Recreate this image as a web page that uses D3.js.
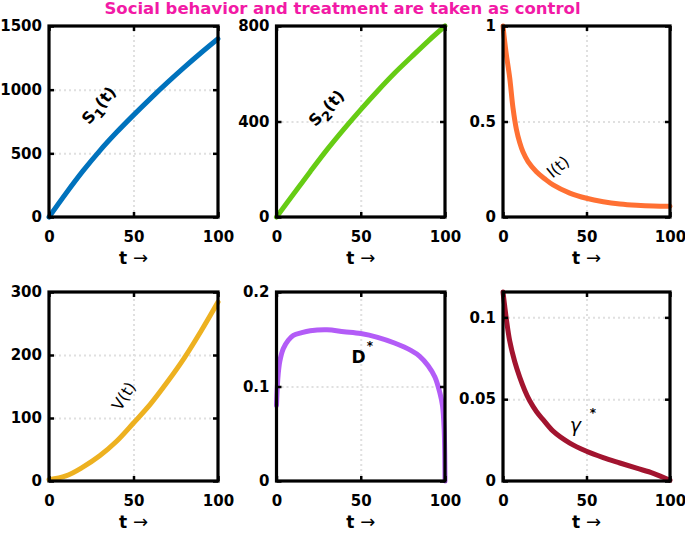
<!DOCTYPE html>
<html><head><meta charset="utf-8">
<script src="https://cdn.jsdelivr.net/npm/d3@7"></script>
<style>
html,body{margin:0;padding:0;background:#fff;}
svg text{font-family:"DejaVu Sans",sans-serif;}
</style></head>
<body><svg id="c" width="685" height="533"></svg>
<script>
// ---- data ----
const title = "Social behavior and treatment are taken as control";
const xTicks = [0, 50, 100];
const xLabelT = "t ";
const xLabelArrow = "\u2192";

const tS1 = [0,10,20,30,40,50,60,70,80,90,100];
const S1  = [0,185,360,520,665,800,930,1055,1175,1290,1400];
const S1Ticks = [0,500,1000,1500];

const tS2 = [0,10,20,30,40,50,60,70,80,90,100];
const S2  = [0,95,190,282,368,450,528,602,670,737,800];
const S2Ticks = [0,400,800];

const tI = [0,1,2,4,6,8,10,12,15,20,25,30,40,50,60,70,80,90,100];
const I  = [1,0.92,0.85,0.73,0.57,0.46,0.39,0.34,0.29,0.237,0.2,0.168,0.125,0.098,0.08,0.068,0.061,0.057,0.056];
const ITicks = [0,0.5,1];

const tV = [0,10,20,30,40,50,60,70,80,90,100];
const V  = [2,8,22,40,63,92,122,157,195,238,284];
const VTicks = [0,100,200,300];

const tD = [0,0.5,1,2,4,7,10,15,20,30,40,50,60,70,80,85,90,94,97,98.5,99.5,100];
const D  = [0.08,0.1,0.113,0.127,0.14,0.149,0.154,0.157,0.159,0.16,0.158,0.156,0.152,0.146,0.138,0.132,0.122,0.11,0.093,0.08,0.055,0];
const DTicks = [0,0.1,0.2];

const tG = [0,1,2,4,7,10,13,16,20,24,30,40,50,60,70,80,90,100];
const G  = [0.1155,0.107,0.099,0.0857,0.073,0.0635,0.0555,0.049,0.0425,0.0375,0.0305,0.0232,0.0182,0.0143,0.011,0.0078,0.0047,0.0005];
const GTicks = [0,0.05,0.1];

// ---- layout ----
const svg = d3.select("#c");
const cols = [[49,218],[276.5,445],[503,670]];
const rows = [[26,217],[292,481]];

const panels = [
  {c:0,r:0,t:tS1,v:S1,yd:[0,1500],yt:S1Ticks,color:"#0072BD"},
  {c:1,r:0,t:tS2,v:S2,yd:[0,800],yt:S2Ticks,color:"#66CC14"},
  {c:2,r:0,t:tI,v:I,yd:[0,1],yt:ITicks,color:"#FF7033"},
  {c:0,r:1,t:tV,v:V,yd:[0,300],yt:VTicks,color:"#EDB120"},
  {c:1,r:1,t:tD,v:D,yd:[0,0.2],yt:DTicks,color:"#B35CF7"},
  {c:2,r:1,t:tG,v:G,yd:[0,0.1155],yt:GTicks,color:"#A2142F"}
];

svg.append("text").attr("x",342.5).attr("y",14).attr("text-anchor","middle")
  .attr("font-size",16.5).attr("font-weight","bold").attr("fill","#F21AA6").text(title);

const fmt = d => String(+d);

panels.forEach(p=>{
  const [x0,x1]=cols[p.c], [y0,y1]=rows[p.r];
  const x = d3.scaleLinear().domain([0,100]).range([x0,x1]);
  const y = d3.scaleLinear().domain(p.yd).range([y1,y0]);
  p.x=x; p.y=y;
  const g = svg.append("g");
  // grid
  const gx = g.append("g").attr("transform",`translate(0,${y1})`)
    .call(d3.axisBottom(x).tickValues(xTicks.slice(1,-1)).tickSize(-(y1-y0)).tickFormat(""));
  const gy = g.append("g").attr("transform",`translate(${x0},0)`)
    .call(d3.axisLeft(y).tickValues(p.yt.filter(v=>v>p.yd[0] && v<p.yd[1])).tickSize(-(x1-x0)).tickFormat(""));
  [gx,gy].forEach(a=>{a.select(".domain").remove();
    a.selectAll("line").attr("stroke","#e0e0e0").attr("stroke-width",2).attr("stroke-dasharray","2,3");});
  // curve
  g.append("path").datum(p.t.map((t,i)=>[t,p.v[i]]))
    .attr("fill","none").attr("stroke",p.color).attr("stroke-width",5)
    .attr("stroke-linecap","round").attr("stroke-linejoin","round")
    .attr("d",d3.line().x(d=>x(d[0])).y(d=>y(d[1])).curve(d3.curveCatmullRom.alpha(0.5)));
  // axes
  const ab = g.append("g").attr("transform",`translate(0,${y1})`)
    .call(d3.axisBottom(x).tickValues(xTicks).tickSize(-5).tickPadding(14).tickFormat(fmt));
  const at = g.append("g").attr("transform",`translate(0,${y0})`)
    .call(d3.axisTop(x).tickValues(xTicks).tickSize(-5).tickFormat(""));
  const al = g.append("g").attr("transform",`translate(${x0},0)`)
    .call(d3.axisLeft(y).tickValues(p.yt).tickSize(-5).tickPadding(7).tickFormat(fmt));
  const ar = g.append("g").attr("transform",`translate(${x1},0)`)
    .call(d3.axisRight(y).tickValues(p.yt).tickSize(-5).tickFormat(""));
  [ab,at,al,ar].forEach(a=>{a.select(".domain").remove();
    a.selectAll("line").attr("stroke","#000").attr("stroke-width",2.5);
    a.selectAll("text").attr("font-family","DejaVu Sans").attr("font-size",15).attr("font-weight","bold").attr("fill","#000");});
  // border
  g.append("rect").attr("x",x0).attr("y",y0).attr("width",x1-x0).attr("height",y1-y0)
    .attr("fill","none").attr("stroke","#000").attr("stroke-width",3.2);
  // x label
  const xl = g.append("text").attr("x",(x0+x1)/2).attr("y",y1+47).attr("text-anchor","middle")
    .attr("font-size",17).attr("font-weight","bold");
  xl.append("tspan").text(xLabelT);
  xl.append("tspan").attr("font-size",18).attr("font-weight","normal").text(xLabelArrow);
});

// annotations
function rotLabel(px,py,ang,size,weight,build){
  const t = svg.append("text").attr("transform",`translate(${px},${py}) rotate(${ang})`)
    .attr("font-size",size).attr("font-weight",weight).attr("text-anchor","middle");
  build(t);
}
const P = panels;
rotLabel(P[0].x(32),P[0].y(850),-50,16,"bold",t=>{t.append("tspan").text("S");t.append("tspan").attr("font-size",13).attr("dy",5).text("1");t.append("tspan").attr("dy",-5).text("(t)");});
rotLabel(P[1].x(32),P[1].y(440),-46,16,"bold",t=>{t.append("tspan").text("S");t.append("tspan").attr("font-size",13).attr("dy",5).text("2");t.append("tspan").attr("dy",-5).text("(t)");});
rotLabel(P[2].x(35),P[2].y(0.24),-40,16,"normal",t=>{t.text("I(t)");});
rotLabel(P[3].x(47),P[3].y(130),-58,16,"normal",t=>{t.text("V(t)");});
svg.append("text").attr("x",P[4].x(44.5)).attr("y",P[4].y(0.125)).attr("font-size",17).attr("font-weight","bold").text("D");
svg.append("text").attr("x",P[4].x(53.5)).attr("y",P[4].y(0.139)).attr("font-size",12).attr("font-weight","bold").text("*");
svg.append("text").attr("x",P[5].x(40)).attr("y",P[5].y(0.03)).attr("font-size",19).attr("font-family","DejaVu Serif").attr("font-style","italic").text("\u03b3");
svg.append("text").attr("x",P[5].x(52)).attr("y",P[5].y(0.039)).attr("font-size",12).attr("font-weight","bold").text("*");
</script></body></html>
